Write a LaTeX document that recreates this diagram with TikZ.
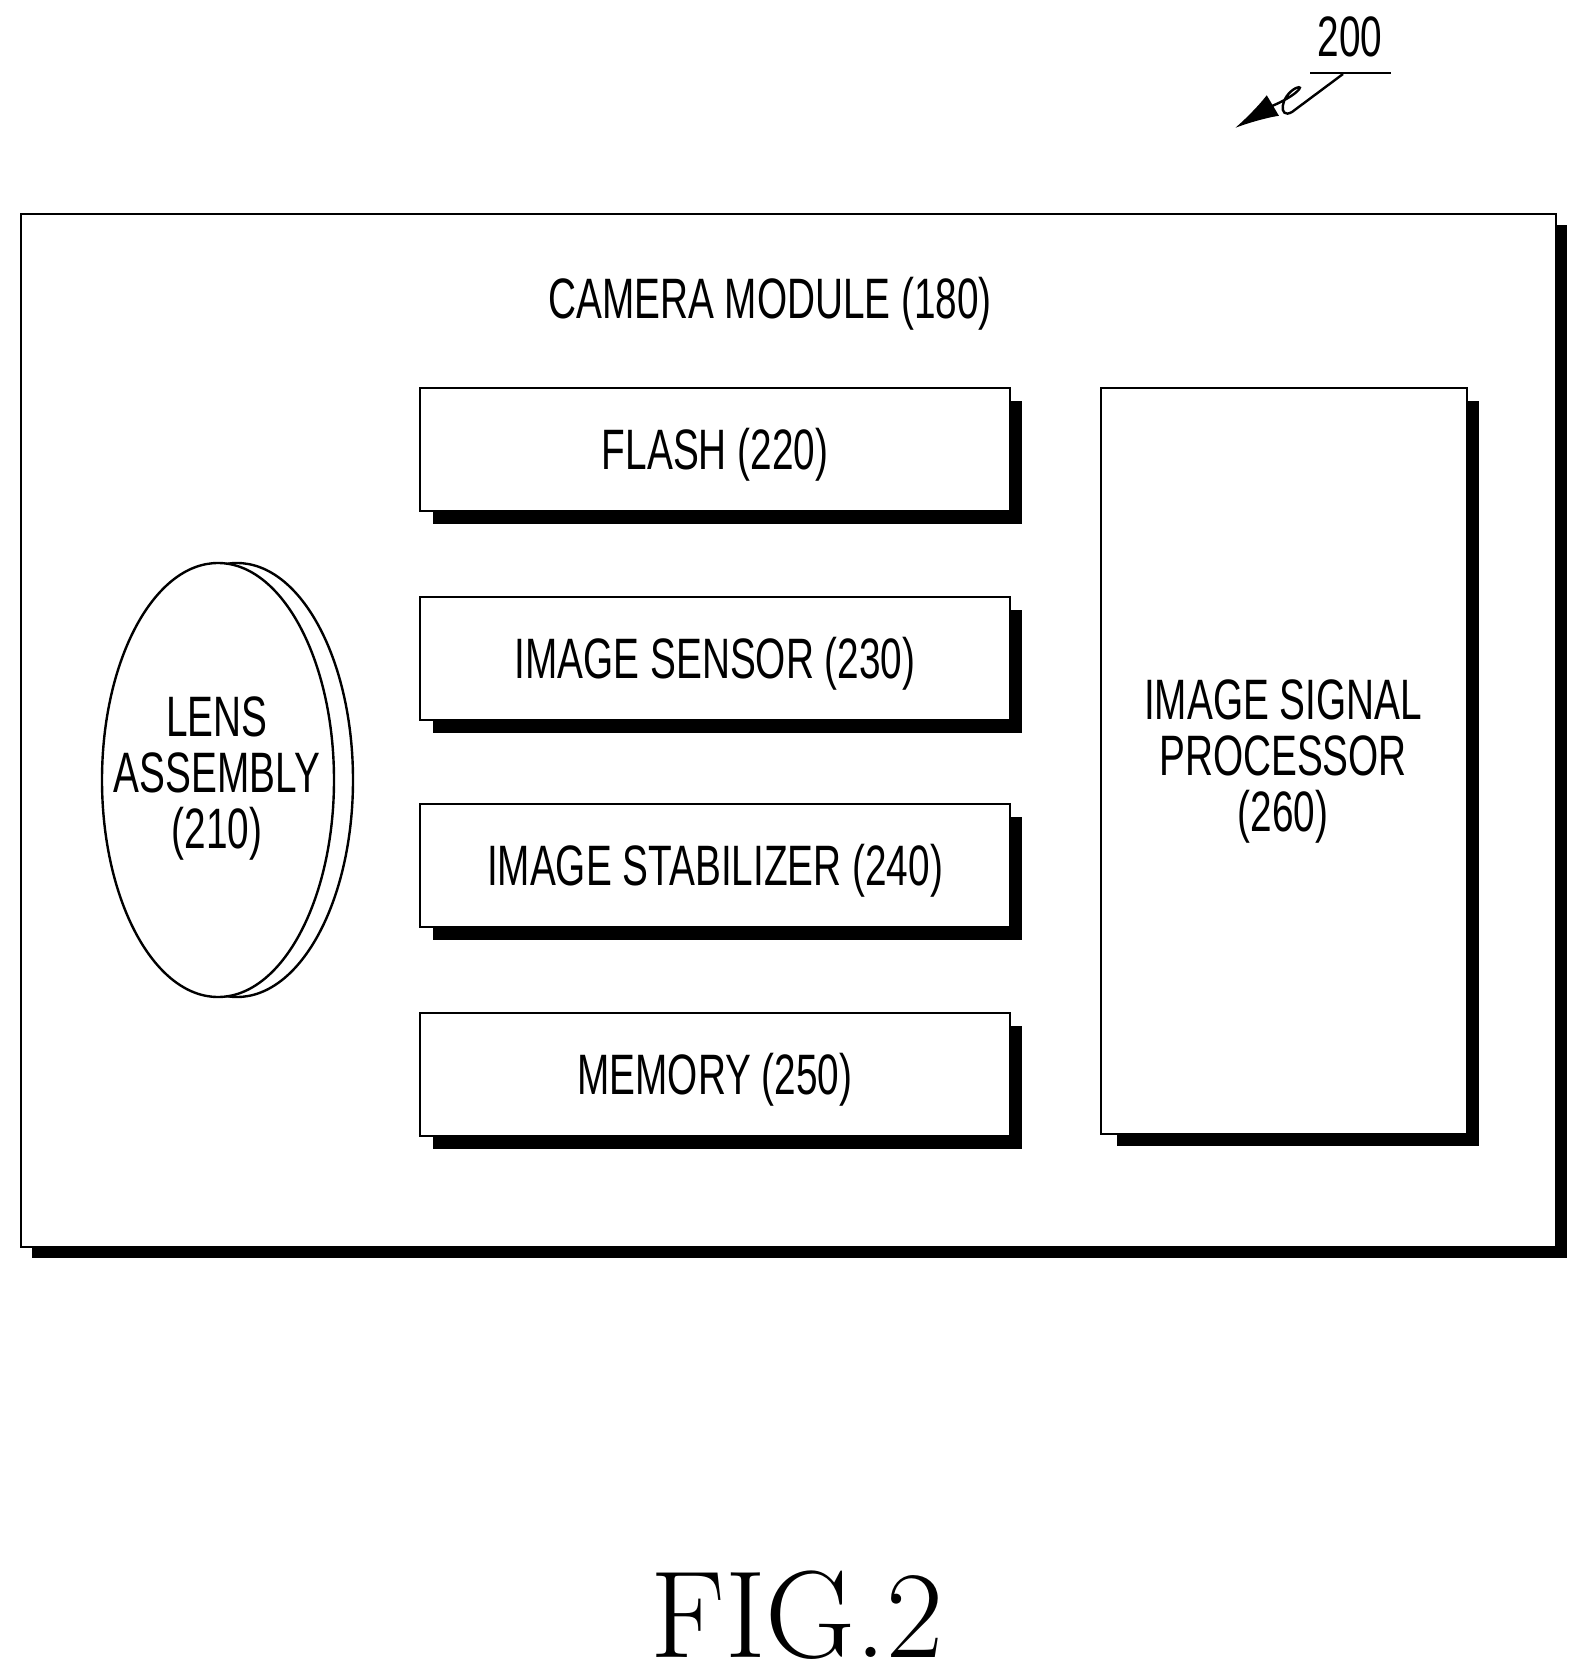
\documentclass[tikz,border=0pt]{standalone}
\usepackage{fontspec}
\setmainfont{Liberation Sans}
\newfontfamily\figfont{Latin Modern Roman}
\usetikzlibrary{arrows.meta}
\newcommand{\narrow}[1]{\scalebox{0.68}[1]{\begin{tabular}{@{}c@{}}#1\end{tabular}}}

\begin{document}
\begin{tikzpicture}[x=0.5pt,y=-0.5pt,line width=1.2pt,
  lbl/.style={font=\fontsize{28.5}{33}\selectfont, inner sep=0pt},
  shadow/.style={fill=black, draw=none}]
\useasboundingbox (0,0) rectangle (1590,1679);

%Outer module box with shadow
\fill[shadow] (32,225) rectangle (1567,1258);
\draw[fill=white] (21,214) rectangle (1556,1247);
\node[lbl] (title) at (770,305) {\narrow{CAMERA MODULE (180)}};

%Component boxes
\foreach \name/\txt/\top in {flash/FLASH (220)/388, sensor/IMAGE SENSOR (230)/597, stab/IMAGE STABILIZER (240)/804, mem/MEMORY (250)/1013}{
  \fill[shadow] (433,\top+13) rectangle (1022,\top+136);
  \draw[fill=white] (420,\top) rectangle (1010,\top+123);
  \node[lbl] (\name) at (715,\top+68) {\narrow{\txt}};
}

%Image signal processor
\fill[shadow] (1117,401) rectangle (1479,1146);
\draw[fill=white] (1101,388) rectangle (1467,1134);
\node[lbl] (isp) at (1283,762) {\narrow{IMAGE SIGNAL\\[-5pt]PROCESSOR\\[-5pt](260)}};

%Lens
\draw[fill=white] (237,780) ellipse [x radius=116, y radius=217];
\draw[fill=white] (218,780) ellipse [x radius=116, y radius=217];
\node[lbl] (lens) at (217,779) {\narrow{LENS\\[-5pt]ASSEMBLY\\[-5pt](210)}};

%Reference numeral
\node[lbl] (ref) at (1350,43) {\narrow{200}};
\draw (1310,73) -- (1391,73);
\coordinate (tip) at (1235,128);
\draw[-{Latex[length=22pt,width=12pt]}] (1343,74) -- (1292,112) .. controls (1278,120) and (1280,96) .. (1296,88) .. controls (1306,84) and (1296,96) .. (1272,106) -- (tip);

\node (fig) at (797,1615) {\figfont\fontsize{62}{62}\selectfont FIG.2};
\end{tikzpicture}
\end{document}
